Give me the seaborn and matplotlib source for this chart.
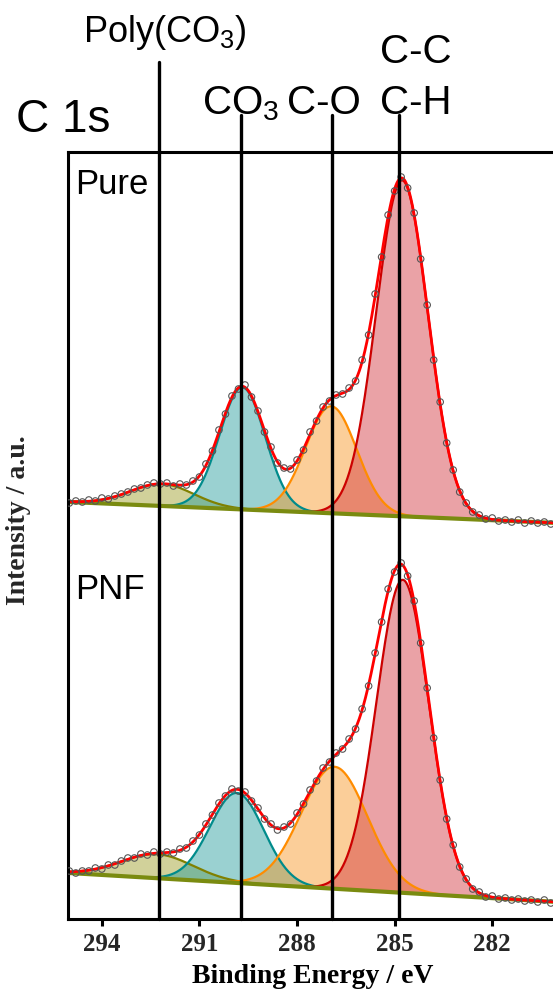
import numpy as np
import pandas as pd
import matplotlib
matplotlib.use("Agg")
import matplotlib.pyplot as plt
import seaborn as sns

# ---- fitted components (centre eV, FWHM eV, height a.u.) ----
components = ["Poly(CO3)", "CO3", "C-O", "C-C/C-H"]
pure_center = [292.15, 289.68, 286.95, 284.77]
pure_fwhm = [2.3, 1.65, 1.85, 1.87]
pure_height = [22, 122, 107, 336]
pnf_center = [292.3, 289.85, 286.85, 284.75]
pnf_fwhm = [2.6, 1.95, 2.4, 1.9]
pnf_height = [24, 90, 122, 313]
# linear background: value at 295 eV and at 280 eV
pure_bg = [417, 396]
pnf_bg = [46, 17]
# assignment lines (eV)
line_energy = [292.24, 289.72, 286.93, 284.86]

# ---- measured points (open circles) ----
meas_energy = [295.0, 294.8, 294.6, 294.4, 294.2, 294.0, 293.8, 293.6, 293.4, 293.2,
               293.0, 292.8, 292.6, 292.4, 292.2, 292.0, 291.8, 291.6, 291.4, 291.2,
               291.0, 290.8, 290.6, 290.4, 290.2, 290.0, 289.8, 289.6, 289.4, 289.2,
               289.0, 288.8, 288.6, 288.4, 288.2, 288.0, 287.8, 287.6, 287.4, 287.2,
               287.0, 286.8, 286.6, 286.4, 286.2, 286.0, 285.8, 285.6, 285.4, 285.2,
               285.0, 284.8, 284.6, 284.4, 284.2, 284.0, 283.8, 283.6, 283.4, 283.2,
               283.0, 282.8, 282.6, 282.4, 282.2, 282.0, 281.8, 281.6, 281.4, 281.2,
               281.0, 280.8, 280.6, 280.4, 280.2, 280.0]
pure_meas = [416, 418, 417, 419, 418, 421, 420, 423, 425, 427, 430, 431, 434, 436, 435,
             436, 433, 435, 434, 438, 442, 455, 468, 489, 505, 523, 530, 534, 522, 508,
             487, 472, 456, 451, 450, 459, 469, 487, 498, 512, 518, 524, 525, 531, 538,
             559, 584, 625, 662, 704, 728, 742, 731, 706, 660, 614, 559, 517, 476, 449,
             427, 416, 407, 404, 400, 401, 398, 399, 397, 399, 396, 398, 396, 397, 395, 397]
pnf_meas = [48, 46, 48, 48, 51, 50, 54, 54, 58, 61, 61, 65, 64, 67, 65, 67, 66, 70, 71,
            78, 84, 95, 104, 116, 123, 130, 128, 127, 118, 111, 100, 95, 89, 92, 95, 106,
            115, 129, 138, 151, 157, 166, 170, 180, 190, 210, 233, 266, 297, 330, 347, 356,
            343, 318, 276, 231, 181, 139, 100, 74, 52, 40, 30, 27, 22, 23, 20, 21, 19, 20,
            18, 19, 17, 19, 16, 18]

xticks = [294, 291, 288, 285, 282]

sns.set_theme(style="ticks")
plt.rcParams["font.family"] = ["Liberation Sans", "DejaVu Sans"]
plt.rcParams["mathtext.fontset"] = "custom"
plt.rcParams["mathtext.rm"] = "Liberation Sans"
plt.rcParams["mathtext.it"] = "Liberation Sans:italic"

fill_colors = ["#9A9A20", "#1F9A9A", "#F7941D", "#D2313A"]
line_colors = ["#808000", "#008B8B", "#FF8C00", "#CC0000"]

W, H = 553, 1001
fig = plt.figure(figsize=(W / 100, H / 100), dpi=100)
ax = fig.add_axes([68 / W, 1 - 919 / H, 489.3 / W, 767 / H])

E = np.linspace(295.04, 280.0, 700)


def gauss(e, c, f, h):
    s = f / 2.3548
    return h * np.exp(-0.5 * ((e - c) / s) ** 2)


for cen, fw, hei, bgp, meas in [(pure_center, pure_fwhm, pure_height, pure_bg, pure_meas),
                                (pnf_center, pnf_fwhm, pnf_height, pnf_bg, pnf_meas)]:
    bg = bgp[0] + (bgp[1] - bgp[0]) * (295 - E) / 15.0
    env = bg.copy()
    for i in range(4):
        g = gauss(E, cen[i], fw[i], hei[i])
        ax.fill_between(E, bg, bg + g, color=fill_colors[i], alpha=0.45, lw=0)
        sns.lineplot(x=E, y=bg + g, ax=ax, color=line_colors[i], lw=1.6, sort=False)
        env = env + g
    sns.lineplot(x=E, y=bg, ax=ax, color="#7A8B10", lw=3, sort=False)
    sns.lineplot(x=E, y=env, ax=ax, color="#FF0000", lw=2, sort=False)
    df = pd.DataFrame({"E": meas_energy, "I": meas})
    sns.scatterplot(data=df, x="E", y="I", ax=ax, marker="o", s=22, facecolor="none",
                    edgecolor="#555555", linewidth=0.8, zorder=5)

ax.set_xlim(295.04, 280.0)
ax.set_ylim(0, 767)
ax.set_yticks([])
ax.set_ylabel("")
ax.set_xticks(xticks)
ax.set_xticklabels([str(t) for t in xticks], fontfamily="Liberation Serif",
                   fontweight="bold", fontsize=18)
ax.tick_params(axis="x", length=5, width=2.2, color="black", pad=5, direction="out")
for sp in ax.spines.values():
    sp.set_linewidth(2.2)
    sp.set_color("black")
ax.set_xlabel("Binding Energy / eV", fontfamily="Liberation Serif", fontweight="bold",
              fontsize=20, labelpad=6, color="black")

fig.text(19 / W, 1 - 520 / H, "Intensity / a.u.", rotation=90, ha="center", va="center",
         fontfamily="Liberation Serif", fontweight="bold", fontsize=20)

tops = [857, 804, 804, 804]
for e, t in zip(line_energy, tops):
    ax.plot([e, e], [0, t], color="black", lw=2.4, clip_on=False, zorder=10)


def ftext(x, y, s, size):
    fig.text(x / W, 1 - y / H, s, ha="left", va="baseline", fontsize=size, color="black")


ftext(16, 132, "C 1s", 33)
ftext(83, 42, "Poly(CO$_3$)", 26)
ftext(202, 114, "CO$_3$", 29)
ftext(287, 114, "C-O", 29)
ftext(380, 63, "C-C", 29)
ftext(380, 114, "C-H", 29)
ftext(75, 194, "Pure", 25)
ftext(75, 599, "PNF", 25)

fig.savefig("out.png", dpi=100)
